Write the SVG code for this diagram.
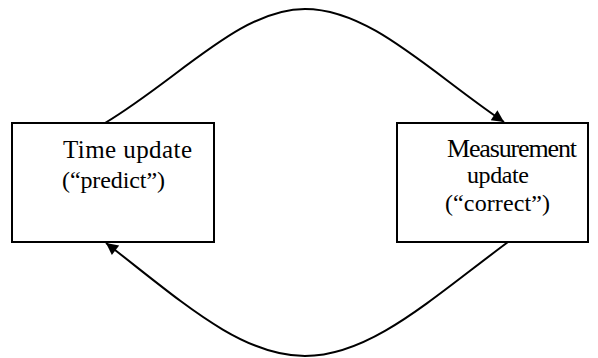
<svg xmlns="http://www.w3.org/2000/svg" width="598" height="358" viewBox="0 0 598 358">
<defs>
<style>
.box{fill:#fff;stroke:#000;stroke-width:2}
.t{font-family:"Liberation Serif","Times New Roman",serif;font-size:24px;fill:#000}
.c{fill:none;stroke:#000;stroke-width:2}
</style>
<marker id="ah" viewBox="0 0 10 10" refX="10" refY="5" markerWidth="7" markerHeight="6" markerUnits="strokeWidth" orient="auto">
<path d="M0,0 L10,5 L0,10 z" fill="#000"/>
</marker>
</defs>
<g id="connectors">
<path class="c" d="M105,123 C180,78 240,9 305,9 C370,9 430,72 504,122" marker-end="url(#ah)"/>
<path class="c" d="M508,242 C430,300 370,356 305,356 C240,356 180,300 106,243" marker-end="url(#ah)"/>
</g>
<g id="time-update">
<rect class="box" x="12" y="123" width="202" height="119"/>
<text class="t" x="63" y="158" textLength="129" style="font-size:25px">Time update</text>
<text class="t" x="62" y="188" textLength="103">(“predict”)</text>
</g>
<g id="measurement-update">
<rect class="box" x="397" y="123" width="191" height="119"/>
<text class="t" x="447" y="157" textLength="130" style="font-size:26px">Measurement</text>
<text class="t" x="467" y="183" textLength="62">update</text>
<text class="t" x="445" y="211" textLength="105">(“correct”)</text>
</g>
</svg>
